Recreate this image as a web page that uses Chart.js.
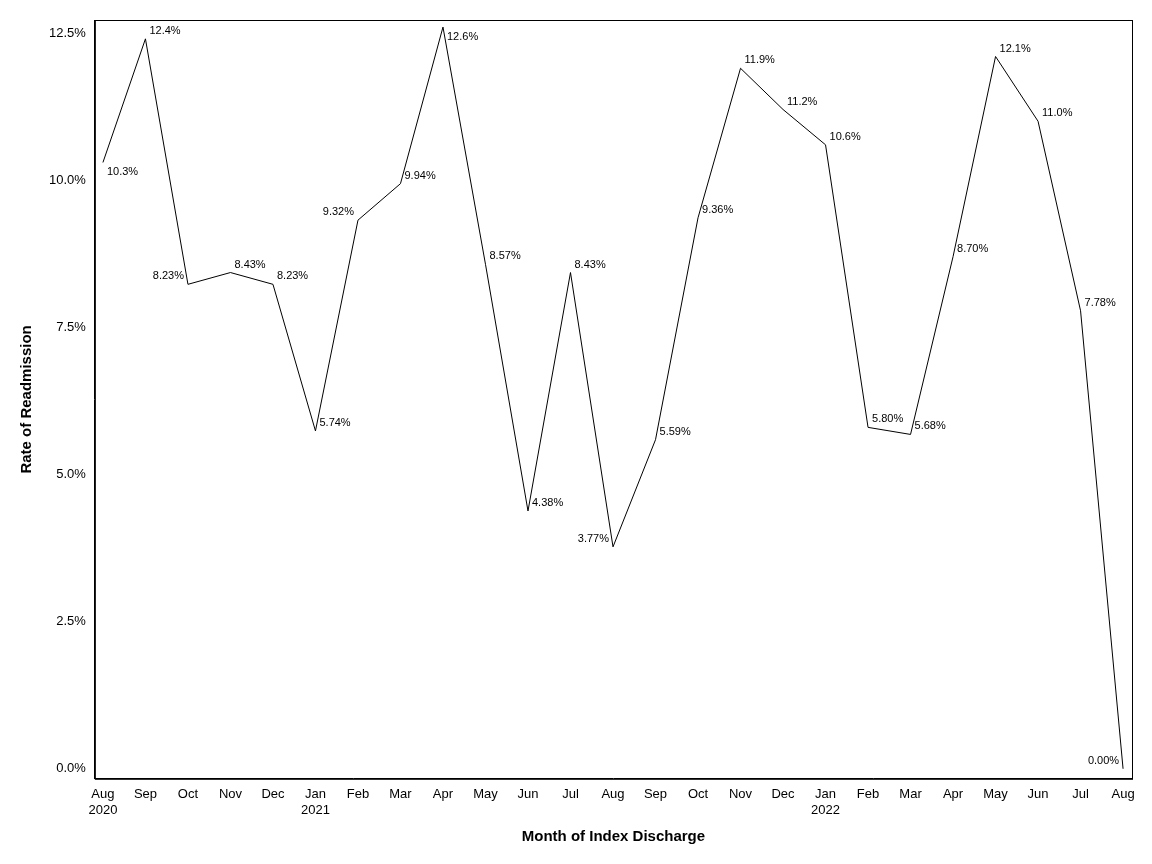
<!DOCTYPE html>
<html><head><meta charset="utf-8">
<script src="https://cdn.jsdelivr.net/npm/chart.js@4"></script>
<style>html,body{margin:0;padding:0;background:#fff}#w{width:1152px;height:864px}</style>
</head><body><div id="w"><canvas id="c"></canvas></div>
<script>
const months = ['Aug','Sep','Oct','Nov','Dec','Jan','Feb','Mar','Apr','May','Jun','Jul','Aug','Sep','Oct','Nov','Dec','Jan','Feb','Mar','Apr','May','Jun','Jul','Aug'];
const years = {0:'2020',5:'2021',17:'2022'};
const rates = [10.3,12.4,8.23,8.43,8.23,5.74,9.32,9.94,12.6,8.57,4.38,8.43,3.77,5.59,9.36,11.9,11.2,10.6,5.80,5.68,8.70,12.1,11.0,7.78,0.00];
const rateLabels = ['10.3%','12.4%','8.23%','8.43%','8.23%','5.74%','9.32%','9.94%','12.6%','8.57%','4.38%','8.43%','3.77%','5.59%','9.36%','11.9%','11.2%','10.6%','5.80%','5.68%','8.70%','12.1%','11.0%','7.78%','0.00%'];
const labelPlace = ['se','ne','nw','ne','ne','ne','nw','ne','se','ne','ne','ne','nw','ne','ne','ne','ne','ne','ne','ne','ne','ne','ne','ne','nw'];
const categories = months.map((m,i)=> years[i] ? [m, years[i]] : m);
const points = rates.map((v,i)=>({x:i,y:v}));

const labelPlugin = {id:'pl', afterDatasetsDraw(ch){
  const ctx=ch.ctx, meta=ch.getDatasetMeta(0);
  ctx.save(); ctx.font='11px "Liberation Sans", Arial, sans-serif'; ctx.fillStyle='#000'; ctx.textBaseline='middle';
  meta.data.forEach((p,i)=>{
    const pl=labelPlace[i]; let x=p.x, y=p.y;
    if(pl[1]==='e'){ctx.textAlign='left'; x+=4;} else {ctx.textAlign='right'; x-=4;}
    y += pl[0]==='n' ? -8 : 10;
    ctx.fillText(rateLabels[i], x, y);
  });
  ctx.restore();
}};
const framePlugin = {id:'fr', afterDraw(ch){
  const a=ch.chartArea, ctx=ch.ctx; ctx.save(); ctx.strokeStyle='#000'; ctx.lineWidth=1;
  ctx.strokeRect(a.left+0.5,a.top+0.5,a.width,a.height); ctx.restore();
}};
Chart.defaults.font.family='"Liberation Sans", Arial, sans-serif';
Chart.defaults.color='#000';
new Chart(document.getElementById('c'),{
  type:'line',
  data:{datasets:[{data:points,borderColor:'#000',borderWidth:1,pointRadius:0,tension:0,fill:false}]},
  options:{responsive:true,maintainAspectRatio:false,animation:false,
    layout:{padding:{top:20,right:20,bottom:14,left:14}},
    plugins:{legend:{display:false},tooltip:{enabled:false}},
    scales:{
      x:{type:'linear',min:-0.19,max:24.21,grid:{display:false,drawTicks:true,tickLength:6,color:'#000'},border:{color:'#000'},
        afterBuildTicks(ax){ax.ticks=categories.map((c,i)=>({value:i}));},
        ticks:{font:{size:13},maxRotation:0,autoSkip:false,padding:2,callback:(v)=>categories[v]},
        title:{display:true,text:'Month of Index Discharge',font:{size:15,weight:'bold'},padding:{top:8}}},
      y:{min:-0.17,max:12.72,grid:{display:false,drawTicks:true,tickLength:6},border:{color:'#000'},
        afterBuildTicks(ax){ax.ticks=[0,2.5,5,7.5,10,12.5].map(v=>({value:v}));},
        ticks:{font:{size:13},callback:v=>v.toFixed(1)+'%'},
        title:{display:true,text:'Rate of Readmission',font:{size:15,weight:'bold'},padding:{bottom:10}}}
    }},
  plugins:[labelPlugin,framePlugin]
});
</script></body></html>
